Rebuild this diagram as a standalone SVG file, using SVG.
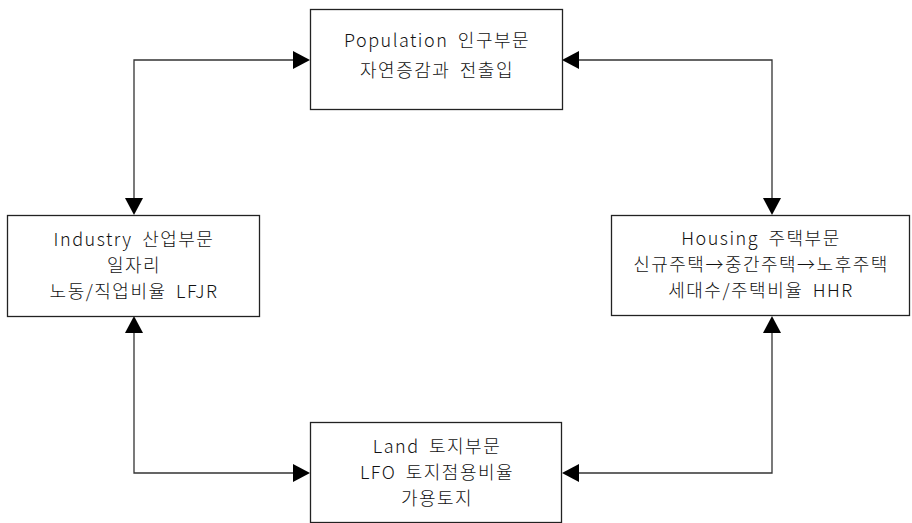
<svg xmlns="http://www.w3.org/2000/svg" width="912" height="523" viewBox="0 0 912 523">
<style>
.box{fill:#fff;stroke:#222;stroke-width:1.3}
.t{font-family:"Noto Sans CJK KR","Noto Sans",sans-serif;font-size:18px;font-weight:300;letter-spacing:1.5px;word-spacing:4px;fill:#111;text-anchor:middle}
.c{fill:none;stroke:#333;stroke-width:1.3}
.ah{fill:#000}
</style>
<g id="connectors">
<polyline class="c" points="293,60 134,60 134,199"/>
<polyline class="c" points="579,60 772,60 772,198"/>
<polyline class="c" points="134,333 134,473 293,473"/>
<polyline class="c" points="579,473 772,473 772,333"/>
<polygon class="ah" points="310,60 293,51 293,69"/>
<polygon class="ah" points="134,215 125,198 143,198"/>
<polygon class="ah" points="562,60 579,51 579,69"/>
<polygon class="ah" points="772,215 763,198 781,198"/>
<polygon class="ah" points="134,316 125,333 143,333"/>
<polygon class="ah" points="310,473 293,464 293,482"/>
<polygon class="ah" points="772,316 763,333 781,333"/>
<polygon class="ah" points="562,473 579,464 579,482"/>
</g>
<g id="population">
<rect class="box" x="310.5" y="9.5" width="252" height="100"/>
<text class="t" x="437" y="47">Population 인구부문</text>
<text class="t" x="437" y="77">자연증감과 전출입</text>
</g>
<g id="industry">
<rect class="box" x="7.5" y="215.5" width="252" height="101"/>
<text class="t" x="134" y="246">Industry 산업부문</text>
<text class="t" x="134" y="272">일자리</text>
<text class="t" x="134" y="298">노동/직업비율 LFJR</text>
</g>
<g id="housing">
<rect class="box" x="611.5" y="215.5" width="298" height="100"/>
<text class="t" x="761" y="245">Housing 주택부문</text>
<text class="t" x="761" y="271">신규주택→중간주택→노후주택</text>
<text class="t" x="761" y="297">세대수/주택비율 HHR</text>
</g>
<g id="land">
<rect class="box" x="310.5" y="422.5" width="251" height="100"/>
<text class="t" x="437" y="453">Land 토지부문</text>
<text class="t" x="437" y="479">LFO 토지점용비율</text>
<text class="t" x="437" y="505">가용토지</text>
</g>
</svg>
